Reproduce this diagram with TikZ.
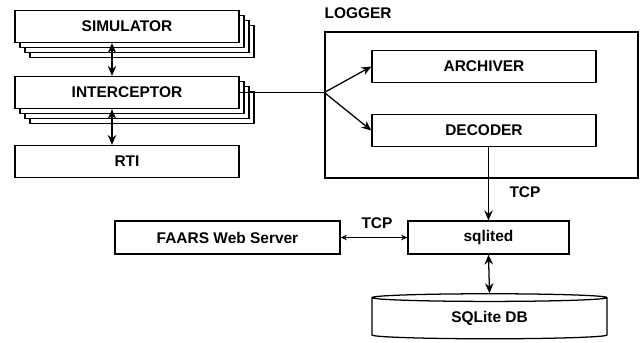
\documentclass[tikz,border=0pt]{standalone}
\usepackage{fontspec}
\setmainfont{Liberation Sans}
\usepackage{tikz}
\usetikzlibrary{positioning, calc, arrows.meta, shadows, shapes.geometric}
\tikzset{
    blocknode/.style={
        draw, line width=0.9pt, fill=white, minimum width=5.6cm, minimum height=0.8cm,
        inner sep=0pt, font=\fontsize{11pt}{13pt}\selectfont\bfseries
    },
    stacked/.style={
        general shadow={shadow xshift=0.375cm, shadow yshift=-0.375cm, draw, line width=0.9pt, fill=white},
        general shadow={shadow xshift=0.25cm, shadow yshift=-0.25cm, draw, line width=0.9pt, fill=white},
        general shadow={shadow xshift=0.125cm, shadow yshift=-0.125cm, draw, line width=0.9pt, fill=white}
    },
    dbnode/.style={
        blocknode, cylinder, shape border rotate=90, aspect=0.1,
        minimum width=5.875cm, minimum height=1.125cm
    },
    link/.style={
        line width=0.9pt, {Stealth[length=7pt,width=6pt]}-{Stealth[length=7pt,width=6pt]}
    },
    smalllink/.style={
        line width=0.9pt, {Stealth[length=4.5pt,width=4pt]}-{Stealth[length=4.5pt,width=4pt]}
    },
    flow/.style={
        line width=0.9pt, -{Stealth[length=7pt,width=6pt]}
    },
    labeltext/.style={
        inner sep=0pt, font=\fontsize{11pt}{13pt}\selectfont\bfseries
    }
}

\begin{document}
\begin{tikzpicture}[x=0.025cm, y=-0.025cm]
    \useasboundingbox (0,0) rectangle (641,343);
    % federate side
    \node[blocknode, stacked] (sim) at (127,26.5) {SIMULATOR};
    \node[blocknode, stacked] (intc) at (127,92.5) {INTERCEPTOR};
    \node[blocknode] (rti) at (127,161.5) {RTI};
    % logger
    \node[blocknode, minimum width=7.825cm, minimum height=3.65cm] (logger) at (481.5,105) {};
    \node[labeltext, above right=0.32cm and 0cm of logger.north west] (loggerlbl) {LOGGER};
    \node[blocknode] (archiver) at (484,66.5) {ARCHIVER};
    \node[blocknode] (decoder) at (484,130.5) {DECODER};
    % storage
    \node[blocknode, minimum width=4.025cm, minimum height=0.825cm] (sqlited) at (488.5,237.5) {sqlited};
    \node[blocknode, minimum width=5.625cm, minimum height=0.825cm] (faars) at (227.5,237.5) {FAARS Web Server};
    \node[dbnode] (db) at (489.5,318.5) {SQLite DB};
    \node[labeltext] (tcpdown) at (525,192) {TCP};
    \node[labeltext] (tcpweb) at (377,223) {TCP};

    \draw[link] ([xshift=-0.375cm]sim.south) -- ([xshift=-0.375cm]intc.north);
    \draw[link] ([xshift=-0.375cm]intc.south) -- ([xshift=-0.375cm]rti.north);
    \coordinate (split) at (logger.west |- intc.east);
    \draw[line width=0.9pt] (intc.east) -- (split);
    \draw[flow] (split) -- (archiver.west);
    \draw[flow] (split) -- (decoder.west);
    \draw[flow] (sqlited.north |- decoder.south) -- (sqlited.north);
    \draw[smalllink] (faars.east) -- (sqlited.west);
    \draw[link] (sqlited.south) -- (db.north);
\end{tikzpicture}
\end{document}
